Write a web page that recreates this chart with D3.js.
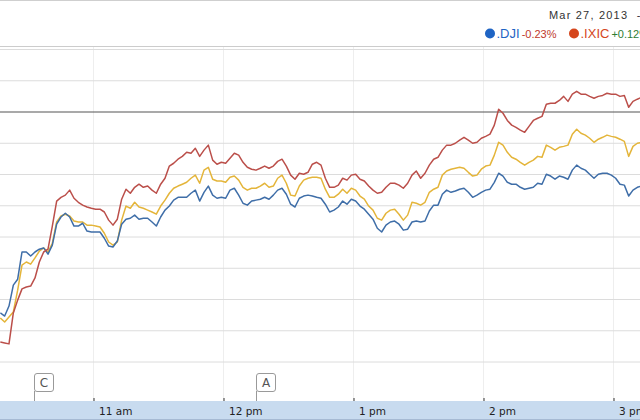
<!DOCTYPE html>
<html><head><meta charset="utf-8">
<script src="https://cdn.jsdelivr.net/npm/d3@7"></script>
<style>body{margin:0;background:#fff;overflow:hidden;} svg{display:block;}</style>
</head><body><svg id="c" width="640" height="420"></svg>
<script>
const times = [
"10:17","10:19","10:21","10:23","10:25","10:27","10:29","10:31","10:33","10:35",
"10:37","10:39","10:41","10:43","10:45","10:47","10:49","10:51","10:53","10:55",
"10:57","10:59","11:01","11:03","11:05","11:07","11:09","11:11","11:13","11:15",
"11:17","11:19","11:21","11:23","11:25","11:27","11:29","11:31","11:33","11:35",
"11:37","11:39","11:41","11:43","11:45","11:47","11:49","11:51","11:53","11:55",
"11:57","11:59","12:01","12:03","12:05","12:07","12:09","12:11","12:13","12:15",
"12:17","12:19","12:21","12:23","12:25","12:27","12:29","12:31","12:33","12:35",
"12:37","12:39","12:41","12:43","12:45","12:47","12:49","12:51","12:53","12:55",
"12:57","12:59","13:01","13:03","13:05","13:07","13:09","13:11","13:13","13:15",
"13:17","13:19","13:21","13:23","13:25","13:27","13:29","13:31","13:33","13:35",
"13:37","13:39","13:41","13:43","13:45","13:47","13:49","13:51","13:53","13:55",
"13:57","13:59","14:01","14:03","14:05","14:07","14:09","14:11","14:13","14:15",
"14:17","14:19","14:21","14:23","14:25","14:27","14:29","14:31","14:33","14:35",
"14:37","14:39","14:41","14:43","14:45","14:47","14:49","14:51","14:53","14:55",
"14:57","14:59","15:01","15:03","15:05","15:07","15:09","15:11","15:13"];

// percent change vs previous close
const ixic = [
-0.736,-0.739,-0.742,-0.643,-0.602,-0.566,-0.560,-0.557,-0.531,-0.480,
-0.448,-0.439,-0.365,-0.285,-0.273,-0.266,-0.250,-0.276,-0.289,-0.298,
-0.304,-0.308,-0.311,-0.311,-0.320,-0.346,-0.362,-0.343,-0.279,-0.247,
-0.260,-0.241,-0.231,-0.241,-0.237,-0.250,-0.260,-0.231,-0.212,-0.173,
-0.164,-0.151,-0.142,-0.129,-0.132,-0.116,-0.142,-0.122,-0.106,-0.154,
-0.167,-0.161,-0.164,-0.148,-0.132,-0.138,-0.161,-0.177,-0.183,-0.186,
-0.180,-0.173,-0.180,-0.173,-0.158,-0.151,-0.173,-0.202,-0.215,-0.196,
-0.199,-0.193,-0.167,-0.161,-0.170,-0.212,-0.241,-0.241,-0.234,-0.212,
-0.218,-0.202,-0.199,-0.215,-0.221,-0.237,-0.250,-0.260,-0.257,-0.241,
-0.228,-0.228,-0.234,-0.244,-0.228,-0.202,-0.189,-0.212,-0.196,-0.170,
-0.151,-0.145,-0.122,-0.106,-0.106,-0.100,-0.090,-0.081,-0.090,-0.100,
-0.097,-0.084,-0.078,-0.071,-0.042,0.009,-0.004,-0.027,-0.042,-0.049,
-0.058,-0.065,-0.046,-0.027,-0.020,-0.014,0.025,0.028,0.028,0.037,
0.050,0.034,0.057,0.066,0.057,0.057,0.050,0.044,0.050,0.053,
0.060,0.057,0.057,0.050,0.053,0.015,0.034,0.041,0.047];

const inx = [
-0.659,-0.672,-0.656,-0.640,-0.570,-0.490,-0.480,-0.487,-0.467,-0.445,
-0.435,-0.448,-0.420,-0.352,-0.333,-0.327,-0.333,-0.349,-0.352,-0.352,
-0.362,-0.362,-0.365,-0.368,-0.388,-0.416,-0.426,-0.416,-0.346,-0.301,
-0.308,-0.289,-0.304,-0.308,-0.314,-0.320,-0.327,-0.301,-0.282,-0.260,
-0.244,-0.237,-0.231,-0.225,-0.212,-0.202,-0.228,-0.186,-0.177,-0.215,
-0.221,-0.221,-0.225,-0.209,-0.205,-0.218,-0.241,-0.250,-0.244,-0.244,
-0.237,-0.228,-0.241,-0.237,-0.212,-0.202,-0.228,-0.266,-0.269,-0.237,
-0.218,-0.212,-0.209,-0.209,-0.212,-0.247,-0.273,-0.273,-0.263,-0.247,
-0.260,-0.244,-0.250,-0.269,-0.279,-0.301,-0.314,-0.340,-0.346,-0.324,
-0.314,-0.311,-0.327,-0.346,-0.330,-0.289,-0.292,-0.298,-0.289,-0.257,
-0.247,-0.241,-0.202,-0.189,-0.183,-0.180,-0.177,-0.180,-0.193,-0.205,
-0.202,-0.183,-0.173,-0.170,-0.138,-0.097,-0.106,-0.129,-0.145,-0.151,
-0.161,-0.170,-0.161,-0.154,-0.142,-0.145,-0.106,-0.113,-0.122,-0.113,
-0.110,-0.106,-0.071,-0.055,-0.068,-0.074,-0.084,-0.097,-0.087,-0.081,
-0.074,-0.078,-0.081,-0.087,-0.094,-0.142,-0.110,-0.100,-0.097];

const dji = [
-0.643,-0.653,-0.621,-0.554,-0.535,-0.448,-0.448,-0.461,-0.448,-0.439,
-0.435,-0.455,-0.426,-0.359,-0.336,-0.324,-0.336,-0.365,-0.365,-0.356,
-0.381,-0.384,-0.384,-0.384,-0.404,-0.429,-0.432,-0.413,-0.359,-0.343,
-0.340,-0.330,-0.343,-0.340,-0.340,-0.352,-0.365,-0.336,-0.314,-0.301,
-0.282,-0.273,-0.273,-0.273,-0.260,-0.250,-0.285,-0.257,-0.237,-0.266,
-0.276,-0.273,-0.276,-0.250,-0.244,-0.266,-0.292,-0.298,-0.285,-0.282,
-0.279,-0.273,-0.279,-0.266,-0.250,-0.244,-0.263,-0.295,-0.304,-0.276,
-0.269,-0.266,-0.269,-0.273,-0.276,-0.295,-0.320,-0.314,-0.304,-0.285,
-0.295,-0.279,-0.285,-0.301,-0.311,-0.327,-0.343,-0.372,-0.384,-0.362,
-0.352,-0.349,-0.359,-0.378,-0.375,-0.352,-0.349,-0.352,-0.349,-0.317,
-0.298,-0.298,-0.263,-0.250,-0.257,-0.253,-0.247,-0.244,-0.257,-0.273,
-0.266,-0.257,-0.250,-0.247,-0.225,-0.196,-0.205,-0.225,-0.231,-0.231,
-0.241,-0.247,-0.244,-0.241,-0.228,-0.231,-0.199,-0.205,-0.215,-0.205,
-0.209,-0.215,-0.186,-0.170,-0.180,-0.186,-0.199,-0.212,-0.199,-0.196,
-0.196,-0.202,-0.212,-0.231,-0.234,-0.269,-0.250,-0.241,-0.237];

const gridValues = [0.2, 0.1, -0.1, -0.2, -0.3, -0.4, -0.5, -0.6, -0.7, -0.8];
const hourTicks = ["11:00","12:00","13:00","14:00","15:00"];
const flagLabels = ["C", "A"];
const flagTimes = ["10:32:30", "12:15:00"];
const legendNames = [".DJI", ".IXIC"];
const legendChanges = ["-0.23%", "+0.12%"];
const dateLabel = "Mar 27, 2013  -";

const parse = t => { const p = t.split(":").map(Number); return new Date(2013, 2, 27, p[0], p[1], p[2] || 0); };

const svg = d3.select("#c");
const W = 640, H = 420;
const x = d3.scaleTime().domain([parse("11:00"), parse("15:00")]).range([93.5, 613.5]);
const y = d3.scaleLinear().domain([0.2, -0.8]).range([49.5, 362]);
const plotTop = 46, plotBottom = 401;

// header
svg.append("line").attr("x1",0).attr("x2",W).attr("y1",0.5).attr("y2",0.5).attr("stroke","#cfcfcf");
svg.append("text").attr("x",549).attr("y",19).text(dateLabel)
  .attr("font-family","Liberation Sans, Arial, sans-serif").attr("font-size",11)
  .attr("letter-spacing","1.2px").attr("fill","#333").attr("xml:space","preserve").style("white-space","pre");

const legendColors = ["#1f64c4", "#d5461c"];
const legendChangeColors = ["#c0392b", "#2e7d32"];
const lg = svg.append("g").attr("font-family","Liberation Sans, Arial, sans-serif");
const legX = [490, 574];
legendNames.forEach((n,i) => {
  lg.append("circle").attr("cx",legX[i]).attr("cy",33.5).attr("r",5).attr("fill",legendColors[i]);
  const t = lg.append("text").attr("x",legX[i]+6.5).attr("y",38).attr("fill",legendColors[i]).attr("font-size",13).text(n);
  const w = t.node().getComputedTextLength();
  lg.append("text").attr("x",legX[i]+6.5+w+2).attr("y",38).attr("fill",legendChangeColors[i]).attr("font-size",11).text(legendChanges[i]);
});

// plot frame top line
svg.append("line").attr("x1",0).attr("x2",W).attr("y1",plotTop+0.5).attr("y2",plotTop+0.5).attr("stroke","#cccccc");

// vertical grid
svg.append("g").selectAll("line").data(hourTicks).join("line")
  .attr("x1",d=>x(parse(d))).attr("x2",d=>x(parse(d)))
  .attr("y1",plotTop+1).attr("y2",plotBottom).attr("stroke","#eeeeee");

// horizontal grid
svg.append("g").selectAll("line").data(gridValues).join("line")
  .attr("x1",0).attr("x2",W)
  .attr("y1",d=>y(d)).attr("y2",d=>y(d)).attr("stroke","#dcdcdc");

// previous close line
svg.append("line").attr("x1",0).attr("x2",W).attr("y1",y(0)).attr("y2",y(0)).attr("stroke","#555").attr("stroke-width",1.2);

// series lines
const series = [
  {vals: inx, color: "#e4b53a"},
  {vals: dji, color: "#3f6ea8"},
  {vals: ixic, color: "#bb4f4a"}
];
const line = d3.line().x((d,i)=>x(parse(times[i]))).y(d=>y(d));
svg.append("g").selectAll("path").data(series).join("path")
  .attr("d", s => line(s.vals)).attr("fill","none")
  .attr("stroke", s => s.color).attr("stroke-width",1.5).attr("stroke-linejoin","round");

// flags
const fg = svg.append("g");
flagLabels.forEach((lab,i) => {
  const fx = Math.round(x(parse(flagTimes[i]))) + 0.5;
  fg.append("line").attr("x1",fx).attr("x2",fx).attr("y1",391).attr("y2",plotBottom).attr("stroke","#999");
  fg.append("rect").attr("x",fx).attr("y",373.5).attr("width",19).attr("height",18).attr("rx",2.5)
    .attr("fill","#fff").attr("stroke","#9a9a9a");
  fg.append("text").attr("x",fx+9.5).attr("y",387).attr("text-anchor","middle")
    .attr("font-family","DejaVu Sans, Verdana, sans-serif").attr("font-size",12).attr("fill","#555").text(lab);
});

// bottom band and axis
svg.append("rect").attr("x",0).attr("y",plotBottom).attr("width",W).attr("height",H-plotBottom).attr("fill","#c8dbef");
svg.append("line").attr("x1",0).attr("x2",W).attr("y1",419.5).attr("y2",419.5).attr("stroke","#a6bad3");

const axis = d3.axisBottom(x).tickValues(hourTicks.map(parse)).tickSize(-3).tickPadding(7)
  .tickFormat(d => { const h = d.getHours(); return (h % 12 === 0 ? 12 : h % 12) + " " + (h < 12 ? "am" : "pm"); });
const ag = svg.append("g").attr("transform",`translate(0,${plotBottom})`).call(axis);
ag.select(".domain").remove();
ag.selectAll(".tick line").attr("stroke","#333");
ag.selectAll(".tick text").attr("text-anchor","start").attr("x",5)
  .attr("font-family","DejaVu Sans, Verdana, sans-serif").attr("font-size",10.5).attr("fill","#222");
</script>
</body></html>
